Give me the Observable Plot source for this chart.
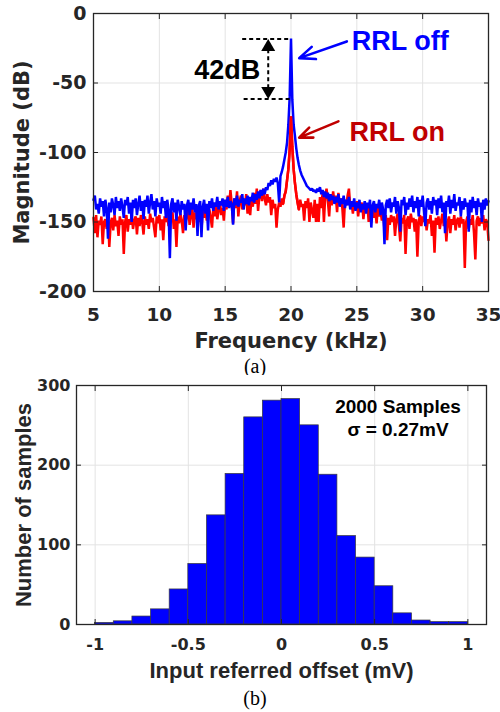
<!DOCTYPE html>
<html><head><meta charset="utf-8">
<script src="https://cdn.jsdelivr.net/npm/d3@7"></script>
<script src="https://cdn.jsdelivr.net/npm/@observablehq/plot@0.6"></script>
<style>
html,body{margin:0;padding:0;background:#fff;}
#page{position:relative;width:500px;height:712px;overflow:hidden;background:#fff;}
.cap{position:absolute;left:5px;width:500px;text-align:center;font-family:"Liberation Serif","Times New Roman",serif;font-size:20px;line-height:20px;color:#000;}
</style></head>
<body><div id="page">
<div id="top" style="position:absolute;left:0;top:0"></div>
<div class="cap" style="top:356px">(a)</div>
<div id="bottom" style="position:absolute;left:0;top:375px"></div>
<div class="cap" style="top:688px">(b)</div>
</div>
<script>
// ---------- (a) spectrum: magnitude in dB, one value every 0.1 kHz from 5.0 to 35.0 kHz ----------
const freqStartKHz = 5.0;
const freqStepKHz = 0.1;
// RRL off (blue), rows = 5.x, 6.x, ... 34.x kHz, then 35.0
const rrlOffDb = [
-134,-131,-141,-137,-144,-133,-139,-135,-146,-134,
-140,-162,-136,-143,-133,-138,-145,-132,-140,-135,
-142,-133,-139,-147,-134,-138,-132,-144,-136,-150,
-134,-140,-133,-145,-137,-131,-142,-135,-148,-134,
-139,-131,-144,-136,-130,-141,-135,-146,-133,-139,
-136,-144,-132,-140,-135,-147,-134,-141,-176,-137,
-133,-143,-136,-149,-134,-139,-145,-135,-141,-137,
-156,-138,-134,-145,-136,-141,-133,-143,-137,-160,
-138,-135,-161,-139,-134,-144,-137,-156,-135,-140,
-133,-142,-136,-139,-132,-141,-135,-138,-133,-142,
-134,-139,-132,-140,-135,-137,-152,-133,-138,-131,
-139,-134,-136,-130,-141,-133,-137,-131,-138,-132,
-135,-129,-136,-130,-134,-128,-133,-127,-131,-126,
-130,-125,-127,-122,-124,-120,-123,-119,-121,-118,
-122,-136,-117,-114,-110,-105,-100,-93,-80,-60,
-18,-62,-80,-88,-97,-104,-109,-113,-116,-118,
-120,-122,-124,-125,-126,-127,-126,-128,-127,-129,
-126,-128,-125,-130,-127,-132,-128,-133,-129,-135,
-130,-134,-131,-137,-132,-136,-130,-139,-133,-137,
-131,-140,-134,-138,-132,-141,-135,-139,-133,-142,
-136,-140,-134,-143,-137,-141,-135,-144,-136,-140,
-134,-154,-138,-135,-143,-137,-140,-134,-145,-136,
-141,-166,-138,-134,-140,-133,-143,-136,-139,-132,
-144,-135,-140,-157,-134,-138,-132,-145,-136,-141,
-133,-139,-131,-143,-135,-140,-132,-146,-134,-139,
-131,-142,-153,-136,-133,-141,-135,-144,-132,-138,
-134,-145,-133,-140,-131,-143,-136,-158,-135,-139,
-131,-144,-134,-140,-130,-142,-136,-138,-132,-146,
-135,-141,-133,-139,-136,-157,-134,-143,-132,-140,
-135,-145,-133,-139,-136,-150,-134,-141,-133,-138,
-135
];
// RRL on (red)
const rrlOnDb = [
-147,-158,-145,-161,-149,-152,-146,-166,-150,-148,
-155,-144,-168,-151,-147,-156,-145,-153,-149,-160,
-146,-152,-148,-173,-150,-145,-157,-148,-152,-144,
-155,-149,-146,-159,-147,-153,-145,-150,-159,-146,
-152,-148,-155,-144,-150,-147,-154,-161,-146,-151,
-145,-156,-148,-163,-146,-150,-144,-153,-147,-149,
-143,-155,-148,-168,-146,-151,-144,-149,-158,-145,
-150,-146,-141,-152,-145,-140,-154,-143,-148,-139,
-150,-142,-156,-140,-147,-139,-149,-144,-141,-147,
-154,-139,-146,-137,-148,-142,-135,-145,-140,-149,
-136,-141,-131,-139,-127,-137,-151,-133,-140,-128,
-146,-135,-131,-141,-134,-138,-130,-144,-136,-145,
-132,-139,-129,-137,-126,-142,-131,-127,-135,-126,
-133,-138,-130,-136,-132,-145,-134,-140,-137,-154,
-141,-136,-139,-133,-137,-131,-128,-120,-112,-98,
-74,-96,-112,-122,-130,-136,-141,-134,-139,-137,
-149,-135,-140,-133,-150,-136,-142,-147,-134,-150,
-137,-150,-132,-140,-129,-150,-131,-126,-135,-146,
-130,-138,-128,-136,-131,-143,-129,-137,-133,-140,
-154,-134,-138,-131,-126,-139,-136,-144,-137,-141,
-135,-146,-138,-142,-136,-148,-139,-143,-137,-150,
-140,-145,-138,-147,-141,-151,-139,-146,-142,-149,
-143,-156,-145,-163,-147,-152,-145,-150,-146,-160,
-148,-144,-153,-164,-147,-151,-145,-173,-149,-146,
-155,-144,-150,-147,-157,-148,-175,-150,-145,-153,
-146,-150,-144,-156,-148,-151,-145,-160,-149,-172,
-147,-152,-146,-155,-149,-144,-153,-147,-164,-150,
-146,-158,-148,-152,-145,-156,-149,-147,-154,-146,
-151,-148,-183,-150,-146,-155,-148,-152,-145,-158,
-177,-149,-146,-153,-147,-151,-145,-156,-148,-150,
-163
];
const freqTicks = [5, 10, 15, 20, 25, 30, 35];
const magTicks = [0, -50, -100, -150, -200];
const peakBandKHz = [19.4, 20.6]; // red tone drawn above the blue trace here

// annotations (data coordinates: kHz, dB)
const annotOff = [{text: "RRL off", f: 24.62, db: -19.8}];
const annotOn = [{text: "RRL on", f: 24.44, db: -85.3}];
const annot42 = [{text: "42dB", f: 17.66, db: -41.2}];
const arrowOff = [{f1: 24.24, db1: -20.1, f2: 20.62, db2: -32.1}];
const arrowOn = [{f1: 23.60, db1: -77.6, f2: 20.62, db2: -89.3}];
const dashLevels = [{db: -18.4, f1: 16.33, f2: 19.95}, {db: -61.5, f1: 16.44, f2: 19.95}];
const dimLine = [{f: 18.27, db1: -26, db2: -54}];
const dimTop = [{f: 18.27, db: -18.4}];
const dimBottom = [{f: 18.27, db: -61.5}];

// ---------- (b) histogram ----------
const binEdges = [-1, -0.9, -0.8, -0.7, -0.6, -0.5, -0.4, -0.3, -0.2, -0.1, 0, 0.1, 0.2, 0.3, 0.4, 0.5, 0.6, 0.7, 0.8, 0.9, 1];
const binCounts = [2, 4, 10, 19, 44, 76, 137, 189, 260, 281, 283, 250, 188, 111, 84, 48, 14, 5, 3, 3];
const offsetTicks = [-1, -0.5, 0, 0.5, 1];
const countTicks = [0, 100, 200, 300];
const histNote = ["2000 Samples", "σ = 0.27mV"];

const fmt = d => String(d);
const toSeries = arr => arr.map((v, i) => ({f: Math.round((freqStartKHz + i * freqStepKHz) * 10) / 10, v}));
const offData = toSeries(rrlOffDb);
const onData = toSeries(rrlOnDb);
const onPeak = onData.filter(d => d.f >= peakBandKHz[0] && d.f <= peakBandKHz[1]);

const axisColor = "#262626";
const gridColor = "#e3e3e3";
const annotFont = "Liberation Sans, Arial, sans-serif";

const topPlot = Plot.plot({
  width: 500, height: 355,
  marginLeft: 93, marginRight: 12, marginTop: 13, marginBottom: 64,
  x: {domain: [5, 35]},
  y: {domain: [-200, 0]},
  style: {background: "white", color: axisColor, fontFamily: "DejaVu Sans, sans-serif", fontWeight: "bold", overflow: "visible"},
  marks: [
    Plot.gridX(freqTicks, {stroke: gridColor, strokeOpacity: 1}),
    Plot.gridY(magTicks, {stroke: gridColor, strokeOpacity: 1}),
    Plot.line(onData, {x: "f", y: "v", stroke: "#ff0000", strokeWidth: 2.5, strokeLinejoin: "miter"}),
    Plot.line(offData, {x: "f", y: "v", stroke: "#0000ff", strokeWidth: 2.5, strokeLinejoin: "miter"}),
    Plot.line(onPeak, {x: "f", y: "v", stroke: "#ff0000", strokeWidth: 2.5, strokeLinejoin: "miter"}),
    Plot.frame({stroke: axisColor, strokeWidth: 1.3}),
    Plot.axisX(freqTicks, {anchor: "bottom", tickSize: 0, tickPadding: 16, fontSize: 18.5, tickFormat: fmt, label: null}),
    Plot.axisX(freqTicks, {anchor: "bottom", tickSize: -5, text: null, label: null, stroke: axisColor}),
    Plot.axisX(freqTicks, {anchor: "top", tickSize: -5, text: null, label: null, stroke: axisColor}),
    Plot.axisY(magTicks, {anchor: "left", tickSize: 0, tickPadding: 7, fontSize: 19, tickFormat: fmt, label: null}),
    Plot.axisY(magTicks, {anchor: "left", tickSize: -5, text: null, label: null, stroke: axisColor}),
    Plot.axisY(magTicks, {anchor: "right", tickSize: -5, text: null, label: null, stroke: axisColor}),
    Plot.text(["Frequency (kHz)"], {text: d => d, frameAnchor: "bottom", dy: 49.5, textAnchor: "middle", lineAnchor: "middle", fontSize: 21, fill: axisColor}),
    Plot.text(["Magnitude (dB)"], {text: d => d, frameAnchor: "left", rotate: -90, dx: -71.3, textAnchor: "middle", lineAnchor: "middle", fontSize: 21, fill: axisColor}),
    // 42 dB dimension
    Plot.ruleY(dashLevels, {y: "db", x1: "f1", x2: "f2", stroke: "black", strokeWidth: 2, strokeDasharray: "4,3"}),
    Plot.ruleX(dimLine, {x: "f", y1: "db1", y2: "db2", stroke: "black", strokeWidth: 2, strokeDasharray: "4,3"}),
    Plot.dot(dimTop, {x: "f", y: "db", symbol: "triangle", r: 5.2, fill: "black", stroke: null, dy: 8}),
    Plot.dot(dimBottom, {x: "f", y: "db", symbol: "triangle", r: 5.2, fill: "black", stroke: null, rotate: 180, dy: -8}),
    Plot.text(annot42, {x: "f", y: "db", text: "text", textAnchor: "end", lineAnchor: "middle", fontSize: 27, fontFamily: annotFont, fill: "black"}),
    // labels and arrows
    Plot.arrow(arrowOff, {x1: "f1", y1: "db1", x2: "f2", y2: "db2", stroke: "#0000ff", strokeWidth: 2.6, headLength: 13, headAngle: 45}),
    Plot.arrow(arrowOn, {x1: "f1", y1: "db1", x2: "f2", y2: "db2", stroke: "#c00000", strokeWidth: 2.6, headLength: 13, headAngle: 45}),
    Plot.text(annotOff, {x: "f", y: "db", text: "text", textAnchor: "start", lineAnchor: "middle", fontSize: 27, fontFamily: annotFont, fill: "#0000ff"}),
    Plot.text(annotOn, {x: "f", y: "db", text: "text", textAnchor: "start", lineAnchor: "middle", fontSize: 27, fontFamily: annotFont, fill: "#c00000"})
  ]
});
document.getElementById("top").appendChild(topPlot);

const bins = binCounts.map((c, i) => ({x1: binEdges[i], x2: binEdges[i + 1], count: c}));

const bottomPlot = Plot.plot({
  width: 500, height: 310,
  marginLeft: 76, marginRight: 14, marginTop: 10, marginBottom: 61,
  x: {domain: [-1.1, 1.1]},
  y: {domain: [0, 300]},
  style: {background: "white", color: axisColor, fontFamily: "DejaVu Sans, sans-serif", fontWeight: "bold", overflow: "visible"},
  marks: [
    Plot.gridX(offsetTicks, {stroke: gridColor, strokeOpacity: 1}),
    Plot.gridY(countTicks, {stroke: gridColor, strokeOpacity: 1}),
    Plot.rectY(bins, {x1: "x1", x2: "x2", y: "count", fill: "#0000ff", stroke: "#3a3a3a", strokeWidth: 0.7}),
    Plot.frame({stroke: axisColor, strokeWidth: 1.3}),
    Plot.axisX(offsetTicks, {anchor: "bottom", tickSize: 0, tickPadding: 14, fontSize: 16, tickFormat: fmt, label: null}),
    Plot.axisX(offsetTicks, {anchor: "bottom", tickSize: -5, text: null, label: null, stroke: axisColor}),
    Plot.axisX(offsetTicks, {anchor: "top", tickSize: -5, text: null, label: null, stroke: axisColor}),
    Plot.axisY(countTicks, {anchor: "left", tickSize: 0, tickPadding: 6, fontSize: 16, tickFormat: fmt, label: null}),
    Plot.axisY(countTicks, {anchor: "left", tickSize: -5, text: null, label: null, stroke: axisColor}),
    Plot.axisY(countTicks, {anchor: "right", tickSize: -5, text: null, label: null, stroke: axisColor}),
    Plot.text(["Input referred offset (mV)"], {text: d => d, frameAnchor: "bottom", dy: 46.5, textAnchor: "middle", lineAnchor: "middle", fontSize: 22, fontFamily: annotFont, fill: axisColor}),
    Plot.text(["Number of samples"], {text: d => d, frameAnchor: "left", rotate: -90, dx: -52.7, textAnchor: "middle", lineAnchor: "middle", fontSize: 22, fontFamily: annotFont, fill: axisColor}),
    Plot.text([histNote[0]], {text: d => d, frameAnchor: "top-right", dx: -88.5, dy: 21.7, textAnchor: "middle", lineAnchor: "middle", fontSize: 19, fontFamily: annotFont, fill: "black"}),
    Plot.text([histNote[1]], {text: d => d, frameAnchor: "top-right", dx: -88.5, dy: 44.3, textAnchor: "middle", lineAnchor: "middle", fontSize: 19, fontFamily: annotFont, fill: "black"})
  ]
});
document.getElementById("bottom").appendChild(bottomPlot);
</script>
</body></html>
